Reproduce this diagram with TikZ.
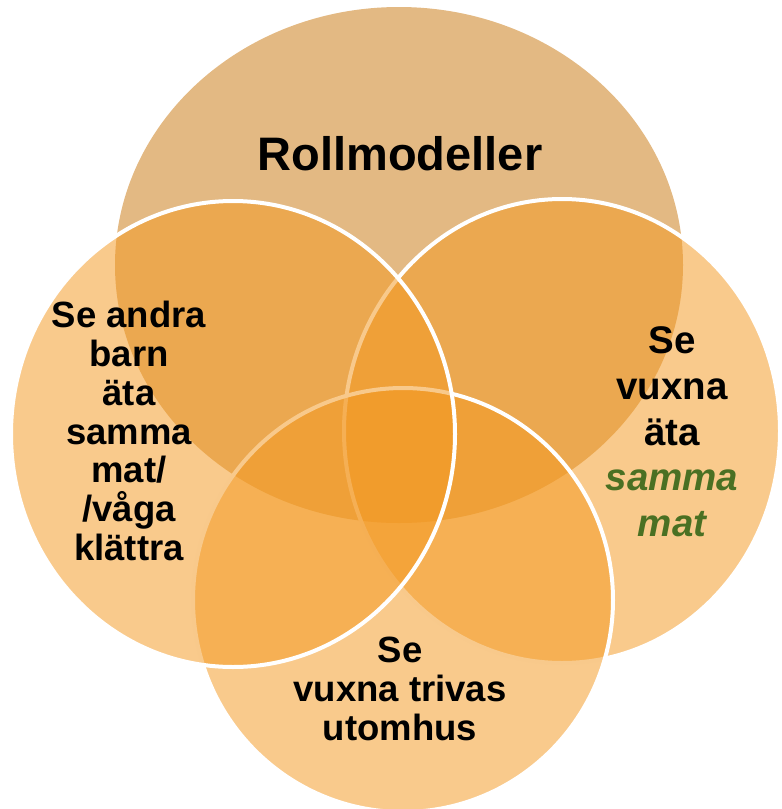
\documentclass[tikz,border=0pt]{standalone}
\usepackage{fontspec}
\setmainfont{Liberation Sans}
\usepackage{tikz}
\usetikzlibrary{positioning}
\definecolor{rolltan}{RGB}{227,185,131}
\definecolor{rollorange}{RGB}{243,153,34}
\definecolor{leafgreen}{RGB}{74,112,35}
\tikzset{
      topset/.style   = {fill=rolltan},
      sideset/.style  = {fill=rollorange, fill opacity=0.52, draw=white, line width=4},
      bigtxt/.style   = {align=center, font=\bfseries\fontsize{47}{50}\selectfont},
      sidetxt/.style  = {align=center, font=\bfseries\fontsize{36.5}{38.7}\selectfont},
      righttxt/.style = {align=center, font=\bfseries\fontsize{38.5}{45.7}\selectfont},
    }
\newcommand{\greenit}[1]{{\color{leafgreen}\itshape #1}}

\begin{document}
\begin{tikzpicture}[x=1pt, y=-1pt]
    \useasboundingbox (0,0) rectangle (782,809);
    \coordinate (ctop) at (399,265);
    \coordinate (cleft) at (233,434);
    \coordinate (cright) at (562,431);
    \coordinate (cbottom) at (403,600);

    \fill[topset] (ctop) ellipse [x radius=284, y radius=258];
    \draw[sideset] (cright) ellipse [x radius=218, y radius=232];
    \draw[sideset] (cbottom) ellipse [x radius=210, y radius=212];
    \draw[sideset] (cleft) ellipse [x radius=222, y radius=233];

    \node[bigtxt] (roll) at (400,154) {Rollmodeller};
    \node[sidetxt] (barn) at (129,431) {Se andra\\barn\\äta\\samma\\mat/\\/våga\\klättra};
    \node[righttxt] (vuxna) at (672,432) {Se\\vuxna\\äta\\\greenit{samma}\\\greenit{mat}};
    \node[sidetxt] (ute) at (400,689) {Se\\vuxna trivas\\utomhus};
\end{tikzpicture}
\end{document}
